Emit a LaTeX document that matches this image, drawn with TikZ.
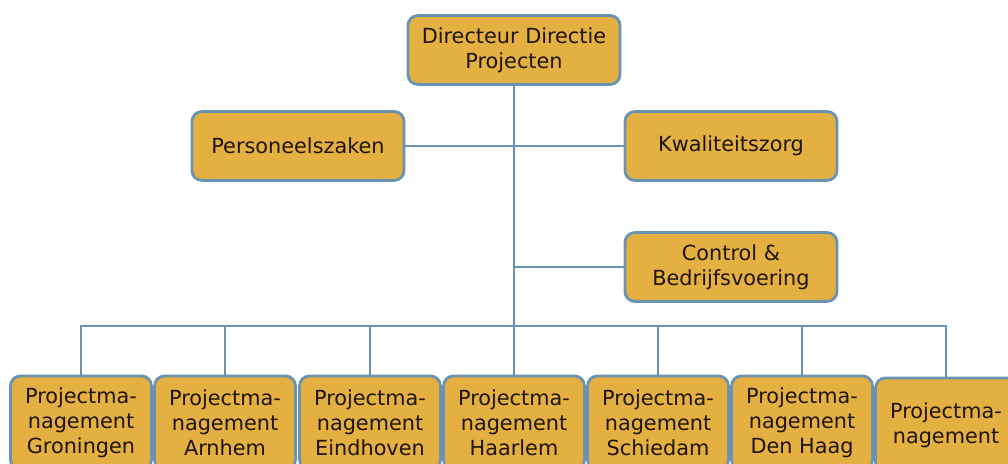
\documentclass[tikz,border=0pt]{standalone}
\usepackage{fontspec}
\setmainfont{DejaVu Sans}
\definecolor{boxfill}{RGB}{228,176,66}
\definecolor{boxline}{RGB}{104,148,178}
\definecolor{txt}{RGB}{30,20,10}
\begin{document}
\begin{tikzpicture}[x=0.025cm,y=-0.025cm,
    unit/.style={draw=boxline,line width=2pt,fill=boxfill,rounded corners=7pt,
      text=txt,align=center,inner sep=0pt,font=\fontsize{14.8}{17.8}\selectfont},
    staf/.style={unit,minimum width=5.3cm,minimum height=1.72cm},
    pm/.style={unit,minimum width=3.52cm,minimum height=2.35cm},
    link/.style={draw=boxline,line width=1.4pt}]
        \useasboundingbox (0,0) rectangle (1008,464);

        \node[staf] (dir) at (514,50) {Directeur Directie\\Projecten};
        \node[staf] (pers) at (298,146) {Personeelszaken};
        \node[staf] (kwal) at (731,146) {Kwaliteitszorg};
        \node[staf] (ctrl) at (731,267) {Control \&\\Bedrijfsvoering};
        \coordinate (bus) at (514,326);

        \node[pm] (gron) at (81,423) {Projectma-\\nagement\\Groningen};
        \node[pm] (arnh) at (225,423) {Projectma-\\nagement\\Arnhem};
        \node[pm] (eind) at (370,423) {Projectma-\\nagement\\Eindhoven};
        \node[pm] (haar) at (514,423) {Projectma-\\nagement\\Haarlem};
        \node[pm] (schd) at (658,423) {Projectma-\\nagement\\Schiedam};
        \node[pm] (denh) at (802,423) {Projectma-\\nagement\\Den Haag};
        \node[pm] (rest) at (946,425) {Projectma-\\nagement};

        \draw[link] (dir) to (haar); \draw[link] (pers) to (kwal); \draw[link] (dir |- ctrl) to (ctrl);
        \foreach \n in {gron,arnh,eind,schd,denh,rest} \draw[link] (bus) -| (\n);
\end{tikzpicture}
\end{document}
